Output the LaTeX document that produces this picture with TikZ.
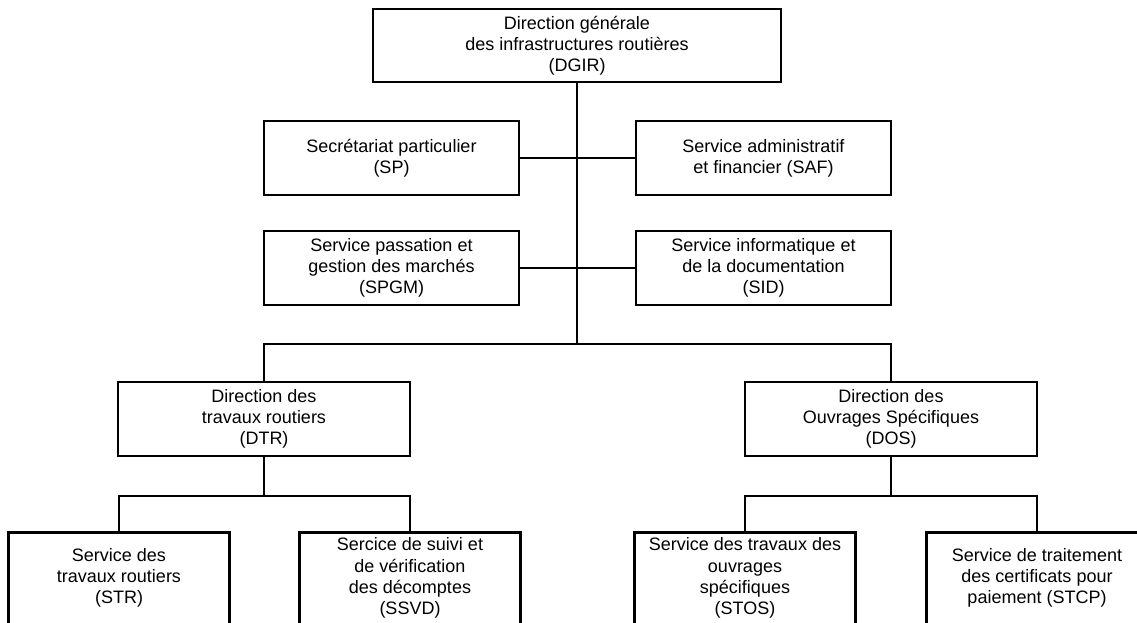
\documentclass[tikz,border=0pt]{standalone}
\usepackage{fontspec}
\setmainfont{Liberation Sans}
\begin{document}
\begin{tikzpicture}[x=1pt,y=-1pt,
  line width=2.7pt, line join=miter,
  unit/.style={draw, rectangle, inner sep=0pt, align=center,
    font=\fontsize{18}{21}\selectfont},
  leaf/.style={rectangle, inner sep=0pt, align=center,
    minimum width=218pt, minimum height=88pt,
    font=\fontsize{18}{21.3}\selectfont}]
\useasboundingbox (0,0) rectangle (1137,623);

% Direction générale
\node[unit, minimum width=408pt, minimum height=73pt] (dgir) at (577,45.5)
  {Direction générale\\des infrastructures routières\\(DGIR)};

% Services rattachés à la direction générale
\node[unit, minimum width=255pt, minimum height=74pt] (sp) at (391.5,158)
  {Secrétariat particulier\\(SP)};
\node[unit, minimum width=255pt, minimum height=74pt] (saf) at (763.5,158)
  {Service administratif\\et financier (SAF)};
\node[unit, minimum width=255pt, minimum height=74pt] (spgm) at (391.5,268)
  {Service passation et\\gestion des marchés\\(SPGM)};
\node[unit, minimum width=255pt, minimum height=74pt] (sid) at (763.5,268)
  {Service informatique et\\de la documentation\\(SID)};

% Directions
\node[unit, minimum width=292pt, minimum height=74pt] (dtr) at (264,419)
  {Direction des\\travaux routiers\\(DTR)};
\node[unit, minimum width=292pt, minimum height=74pt] (dos) at (891,419)
  {Direction des\\Ouvrages Spécifiques\\(DOS)};

% Services des directions (boxes run past the lower edge)
\node[leaf] (str)  at (119,578)  {Service des\\travaux routiers\\(STR)};
\node[leaf] (ssvd) at (410,578)  {Sercice de suivi et\\de vérification\\des décomptes\\(SSVD)};
\node[leaf] (stos) at (745,578)  {Service des travaux des\\ouvrages\\spécifiques\\(STOS)};
\node[leaf] (stcp) at (1037,578) {Service de traitement\\des certificats pour\\paiement (STCP)};
\foreach \n in {str,ssvd,stos,stcp}
  \draw ([yshift=-12pt]\n.south west) |- (\n.north east) -- ([yshift=-12pt]\n.south east);

% Liaisons
\coordinate (bus) at (577,344);
\coordinate (jdtr) at (264,496);
\coordinate (jdos) at (891,496);

\draw (dgir.south) -- (bus);
\draw (sp.east) -- (saf.west);
\draw (spgm.east) -- (sid.west);
\draw (dtr.north) |- (bus) -| (dos.north);
\draw (dtr.south) -- (jdtr);
\draw (str.north) |- (jdtr) -| (ssvd.north);
\draw (dos.south) -- (jdos);
\draw (stos.north) |- (jdos) -| (stcp.north);
\end{tikzpicture}
\end{document}
